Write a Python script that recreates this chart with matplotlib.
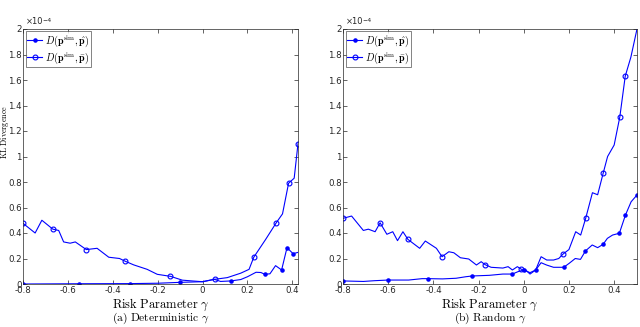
import matplotlib
matplotlib.use("Agg")
import matplotlib.pyplot as plt
from matplotlib.ticker import FuncFormatter

plt.rcParams['mathtext.fontset'] = 'cm'

# ---------------- data (KL divergence in units of 1e-4) ----------------
# (a) Deterministic gamma
det_hat_x = [-0.8, -0.55, -0.325, -0.2, -0.1, 0.0, 0.052, 0.08, 0.126, 0.17, 0.2, 0.238,
             0.26, 0.277, 0.30, 0.325, 0.352, 0.376, 0.403, 0.425]
det_hat_y = [0.0, 0.002, 0.003, 0.006, 0.013, 0.018, 0.037, 0.02, 0.024, 0.035, 0.057, 0.092,
             0.09, 0.076, 0.08, 0.144, 0.11, 0.285, 0.238, 0.248]
det_hat_marks = [0, 1, 2, 4, 8, 13, 16, 17, 18]

det_bar_x = [-0.8, -0.746, -0.716, -0.667, -0.641, -0.619, -0.59, -0.567, -0.518, -0.47,
             -0.418, -0.37, -0.344, -0.307, -0.247, -0.202, -0.143, -0.09, -0.039, 0.0,
             0.055, 0.11, 0.17, 0.207, 0.228, 0.281, 0.328, 0.356, 0.383, 0.408, 0.425]
det_bar_y = [0.476, 0.40, 0.50, 0.43, 0.42, 0.33, 0.32, 0.33, 0.27, 0.28,
             0.21, 0.20, 0.178, 0.15, 0.115, 0.076, 0.06, 0.03, 0.023, 0.018,
             0.037, 0.05, 0.085, 0.115, 0.21, 0.35, 0.48, 0.55, 0.79, 0.83, 1.10]
det_bar_marks = [0, 3, 8, 12, 16, 20, 24, 26, 28, 30]

# (b) Random gamma
rnd_hat_x = [-0.8, -0.71, -0.66, -0.6, -0.51, -0.45, -0.424, -0.36, -0.30, -0.257, -0.228,
             -0.153, -0.093, -0.051, -0.026, 0.0, 0.027, 0.052, 0.076, 0.1, 0.131, 0.176,
             0.2, 0.227, 0.25, 0.272, 0.302, 0.326, 0.35, 0.369, 0.392, 0.422, 0.449, 0.474, 0.5]
rnd_hat_y = [0.024, 0.020, 0.026, 0.031, 0.031, 0.042, 0.042, 0.040, 0.045, 0.057, 0.063,
             0.068, 0.078, 0.078, 0.097, 0.11, 0.089, 0.11, 0.167, 0.149, 0.131, 0.131,
             0.162, 0.2, 0.193, 0.259, 0.306, 0.285, 0.311, 0.358, 0.384, 0.398, 0.541, 0.645, 0.698]
rnd_hat_marks = [0, 3, 6, 10, 13, 15, 17, 21, 25, 28, 31, 32, 34]

rnd_bar_x = [-0.8, -0.762, -0.71, -0.688, -0.658, -0.636, -0.606, -0.58, -0.559, -0.535,
             -0.513, -0.461, -0.436, -0.387, -0.362, -0.332, -0.31, -0.281, -0.244, -0.21,
             -0.189, -0.172, -0.145, -0.093, -0.07, -0.051, -0.029, -0.011, 0.004, 0.027,
             0.052, 0.076, 0.101, 0.131, 0.154, 0.173, 0.199, 0.229, 0.251, 0.273, 0.303,
             0.326, 0.351, 0.37, 0.399, 0.424, 0.448, 0.473, 0.5]
rnd_bar_y = [0.515, 0.533, 0.42, 0.43, 0.41, 0.48, 0.39, 0.41, 0.34, 0.41,
             0.35, 0.28, 0.337, 0.28, 0.214, 0.253, 0.245, 0.206, 0.196, 0.149,
             0.175, 0.152, 0.131, 0.125, 0.136, 0.11, 0.136, 0.115, 0.115, 0.078,
             0.11, 0.214, 0.188, 0.188, 0.2, 0.235, 0.27, 0.41, 0.384, 0.515, 0.716,
             0.70, 0.873, 1.0, 1.09, 1.31, 1.63, 1.78, 2.0]
rnd_bar_marks = [0, 5, 10, 14, 21, 27, 35, 39, 42, 45, 46]

x_ticks = [-0.8, -0.6, -0.4, -0.2, 0, 0.2, 0.4]
y_ticks = [0, 0.2, 0.4, 0.6, 0.8, 1.0, 1.2, 1.4, 1.6, 1.8, 2.0]
labels = [r'$D(\mathbf{p}^{\mathrm{sim}},\hat{\mathbf{p}})$',
          r'$D(\mathbf{p}^{\mathrm{sim}},\bar{\mathbf{p}})$']
captions = [r'$\mathrm{(a)\ Deterministic}\ \gamma$', r'$\mathrm{(b)\ Random}\ \gamma$']

# ---------------- figure ----------------
fig = plt.figure(figsize=(6.4, 3.27), dpi=100)
W, H = 640.0, 327.0
ax_boxes = [(23, 298), (343, 637)]
top_px, bot_px = 29, 284
xlims = [(-0.8, 0.425), (-0.8, 0.5)]
series = [
    (det_hat_x, det_hat_y, det_hat_marks, det_bar_x, det_bar_y, det_bar_marks),
    (rnd_hat_x, rnd_hat_y, rnd_hat_marks, rnd_bar_x, rnd_bar_y, rnd_bar_marks),
]
grey = (0.15, 0.15, 0.15)
blue = (0.0, 0.0, 1.0)

fmt = FuncFormatter(lambda v, p: '%g' % round(v, 3))

for i, ((l, r), (hx, hy, hm, bx, by, bm)) in enumerate(zip(ax_boxes, series)):
    ax = fig.add_axes([l / W, 1 - bot_px / H, (r - l) / W, (bot_px - top_px) / H])
    ax.plot(hx, hy, '-', color=blue, lw=0.8, marker='.', ms=4.5, markevery=hm,
            label=labels[0])
    ax.plot(bx, by, '-', color=blue, lw=0.8, marker='o', ms=3.5, mfc='none', mew=0.8,
            markevery=bm, label=labels[1])
    ax.set_xlim(*xlims[i])
    ax.set_ylim(0, 2)
    ax.set_xticks(x_ticks)
    ax.set_yticks(y_ticks)
    ax.xaxis.set_major_formatter(fmt)
    ax.yaxis.set_major_formatter(fmt)
    ax.tick_params(direction='in', top=True, right=True, length=3, width=0.5,
                   labelsize=6.2, colors=grey, pad=1.5)
    ax.tick_params(axis='y', pad=1.0)
    for s in ax.spines.values():
        s.set_linewidth(0.5)
        s.set_color(grey)
    fig.text((l + 3) / W, 1 - 26.5 / H, '×10', fontsize=6, color=grey,
             ha='left', va='bottom')
    fig.text((l + 19) / W, 1 - 23.5 / H, '\u22124', fontsize=4.5, color=grey,
             ha='left', va='bottom')
    ax.set_xlabel(r'$\mathrm{Risk\ Parameter}\ \gamma$', fontsize=9, labelpad=1)
    leg = ax.legend(loc='upper left', fontsize=7.2, frameon=True, fancybox=False,
                    edgecolor=grey, borderpad=0.15, handlelength=1.5, handletextpad=0.3,
                    labelspacing=0.1, borderaxespad=0.25)
    leg.get_frame().set_linewidth(0.5)
    cx = (l + r) / 2 / W
    fig.text(cx, 1.0 / H, captions[i], ha='center', va='bottom', fontsize=8.3)

fig.text(5.2 / W, 1 - 132 / H, r'$\mathrm{KL\ Divergence}$', rotation=90,
         ha='center', va='center', fontsize=5.8)

fig.savefig('out.png', dpi=100)
